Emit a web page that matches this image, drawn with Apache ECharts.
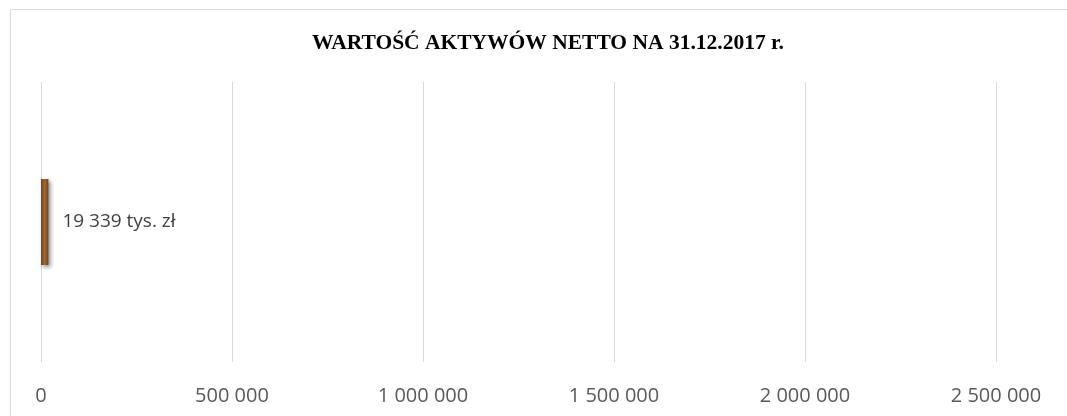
<!DOCTYPE html>
<html>
<head>
<meta charset="utf-8">
<script src="https://cdn.jsdelivr.net/npm/echarts@6/dist/echarts.min.js"></script>
<style>
html,body{margin:0;padding:0;background:#fff;}
#c{width:1067px;height:416px;}
</style>
</head>
<body>
<div id="c"></div>
<script>
const title = 'WARTOŚĆ AKTYWÓW NETTO NA 31.12.2017 r.';
const categories = ['Wartość aktywów netto'];
const values = [19339];
const labelSuffix = ' tys. zł';
const axisMin = 0;
const axisMax = 3000000;
const axisStep = 500000;

function fmt(v){
  return String(Math.round(v)).replace(/\B(?=(\d{3})+(?!\d))/g, ' ');
}

const chart = echarts.init(document.getElementById('c'), null, {renderer:'canvas'});
chart.setOption({
  animation:false,
  backgroundColor:'#ffffff',
  title:{
    text:title,
    left:543, textAlign:'center', top:27,
    textStyle:{fontFamily:'Liberation Serif', fontWeight:'bold', fontSize:21.5, color:'#000'}
  },
  graphic:[{
    type:'rect', silent:true, z:-1,
    shape:{x:10.5, y:9.5, width:1200, height:600},
    style:{fill:null, stroke:'#d9d9d9', lineWidth:1}
  }],
  grid:{left:41, width:1146, top:82, bottom:54, containLabel:false, outerBoundsMode:'none'},
  xAxis:{
    type:'value', min:axisMin, max:axisMax, interval:axisStep,
    axisLine:{show:false}, axisTick:{show:false},
    splitLine:{show:true, lineStyle:{color:'#d9d9d9', width:1}},
    axisLabel:{margin:24, fontSize:20, color:'#595959', fontFamily:'Open Sans', formatter:fmt}
  },
  yAxis:{
    type:'category', data:categories,
    axisLine:{show:false}, axisTick:{show:false}, axisLabel:{show:false}
  },
  series:[{
    type:'bar', data:values, barWidth:86,
    itemStyle:{
      color:new echarts.graphic.LinearGradient(0,0,1,0,[
        {offset:0,color:'#6e4219'},
        {offset:0.5,color:'#a06a35'},
        {offset:1,color:'#6e4219'}
      ]),
      shadowColor:'rgba(0,0,0,0.45)', shadowBlur:4, shadowOffsetX:2, shadowOffsetY:2
    },
    label:{
      show:true, position:'right', distance:14,
      fontSize:19, color:'#404040', fontFamily:'Open Sans',
      formatter:p=>fmt(p.value)+labelSuffix
    }
  }]
});
</script>
</body>
</html>
